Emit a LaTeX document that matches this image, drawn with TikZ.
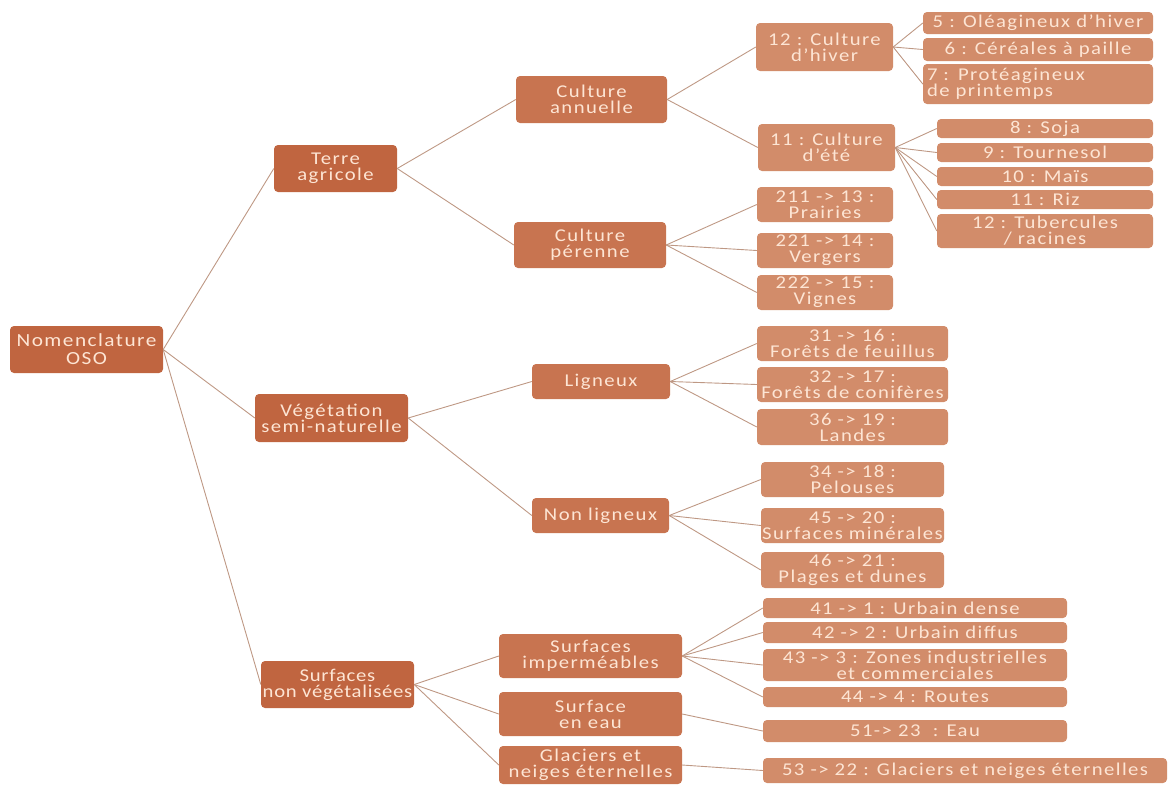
\documentclass[tikz,border=0pt]{standalone}
\usepackage{fontspec}
\setmainfont{Carlito}[LetterSpace=8,FakeStretch=1.15]
\definecolor{dark}{RGB}{192,101,64}
\definecolor{mid}{RGB}{200,116,80}
\definecolor{light}{RGB}{210,140,106}
\definecolor{txt}{RGB}{253,229,212}
\definecolor{edge}{RGB}{190,152,132}
\begin{document}
\begin{tikzpicture}[x=1pt,y=-1pt,
  base/.style={rounded corners=4pt, inner sep=0pt, text=txt, align=center, anchor=center,
    font={\fontsize{18}{16}\selectfont}},
  sz/.style 2 args={minimum width=#1pt, minimum height=#2pt},
  dk/.style={base, fill=dark},
  md/.style={base, fill=mid},
  lt/.style={base, fill=light},
  link/.style={draw=edge, line width=0.9pt}]
\useasboundingbox (0,0) rectangle (1169,785);
% level 0/1
\node[dk, sz={153}{47}, font={\fontsize{18.5}{18}\selectfont}] (root) at (86.5,349.5) {Nomenclature\\OSO};
\node[dk, sz={123}{47}] (ta) at (335.5,168.5) {Terre\\agricole};
\node[dk, sz={153}{48}] (vsn) at (331.5,418) {Végétation\\semi-naturelle};
\node[dk, sz={153}{47}, font={\fontsize{18}{16}\selectfont\addfontfeature{LetterSpace=4}}] (snv) at (337.5,684.5) {Surfaces\\non végétalisées};
% level 2
\node[md, sz={151}{47}] (ca) at (591.5,99.5) {Culture\\annuelle};
\node[md, sz={152}{46}] (cp) at (590,245) {Culture\\pérenne};
\node[md, sz={138}{35}] (lig) at (601,381.5) {Ligneux};
\node[md, sz={137}{35}] (nlig) at (600.5,515.5) {Non ligneux};
\node[md, sz={183}{44}] (si) at (590.5,656) {Surfaces\\imperméables};
\node[md, sz={183}{44}] (se) at (590.5,714) {Surface\\en eau};
\node[md, sz={183}{38}] (gl) at (590.5,765) {Glaciers et\\neiges éternelles};
% level 3
\node[lt, sz={137}{48}] (ch) at (824.5,47) {12 : Culture\\d’hiver};
\node[lt, sz={137}{47}] (ce) at (826.5,147.5) {11 : Culture\\d’été};
\node[lt, sz={136}{35}] (l13) at (825,204.5) {211 -> 13 :\\Prairies};
\node[lt, sz={136}{35}] (l14) at (825,250.5) {221 -> 14 :\\Vergers};
\node[lt, sz={136}{35}] (l15) at (825,292.5) {222 -> 15 :\\Vignes};
\node[lt, sz={191}{35}] (l16) at (852.5,343.5) {31 -> 16 :\\Forêts de feuillus};
\node[lt, sz={191}{35}] (l17) at (852.5,384.5) {32 -> 17 :\\Forêts de conifères};
\node[lt, sz={191}{36}] (l19) at (852.5,427) {36 -> 19 :\\Landes};
\node[lt, sz={183}{35}] (l18) at (852.5,479.5) {34 -> 18 :\\Pelouses};
\node[lt, sz={183}{35}] (l20) at (852.5,525.5) {45 -> 20 :\\Surfaces minérales};
\node[lt, sz={183}{36}] (l21) at (852.5,570) {46 -> 21 :\\Plages et dunes};
\node[lt, sz={304}{20}] (l1) at (915,608) {41 -> 1 : Urbain dense};
\node[lt, sz={304}{21}] (l2) at (915,632.5) {42 -> 2 : Urbain diffus};
\node[lt, sz={304}{32}] (l3) at (915,665) {43 -> 3 : Zones industrielles\\et commerciales};
\node[lt, sz={304}{20}] (l4) at (915,697) {44 -> 4 : Routes};
\node[lt, sz={304}{22}] (l23) at (915,731) {51-> 23 \ : Eau};
\node[lt, sz={404}{25}] (l22) at (965,770.5) {53 -> 22 : Glaciers et neiges éternelles};
% level 4
\node[lt, sz={230}{22}] (l5) at (1038,23) {5 : Oléagineux d’hiver};
\node[lt, sz={230}{23}] (l6) at (1038,49.5) {6 : Céréales à paille};
\node[lt, sz={230}{40}, align=left, text width=222pt] (l7) at (1038,84) {7 : Protéagineux\\de printemps};
\node[lt, sz={216}{19}] (l8) at (1045,128.5) {8 : Soja};
\node[lt, sz={216}{19}] (l9) at (1045,152.5) {9 : Tournesol};
\node[lt, sz={216}{19}] (l10) at (1045,176.5) {10 : Maïs};
\node[lt, sz={216}{19}] (l11) at (1045,199.5) {11 : Riz};
\node[lt, sz={216}{34}] (l12) at (1045,231) {12 : Tubercules\\/ racines};
% connectors
\foreach \p/\c in {root/ta, root/vsn, root/snv,
  ta/ca, ta/cp, ca/ch, ca/ce,
  ch/l5, ch/l6, ch/l7,
  ce/l8, ce/l9, ce/l10, ce/l11, ce/l12,
  cp/l13, cp/l14, cp/l15,
  vsn/lig, vsn/nlig,
  lig/l16, lig/l17, lig/l19,
  nlig/l18, nlig/l20, nlig/l21,
  snv/si, snv/se, snv/gl,
  si/l1, si/l2, si/l3, si/l4,
  se/l23, gl/l22}
  \draw[link] (\p.east) -- (\c.west);
\end{tikzpicture}
\end{document}
